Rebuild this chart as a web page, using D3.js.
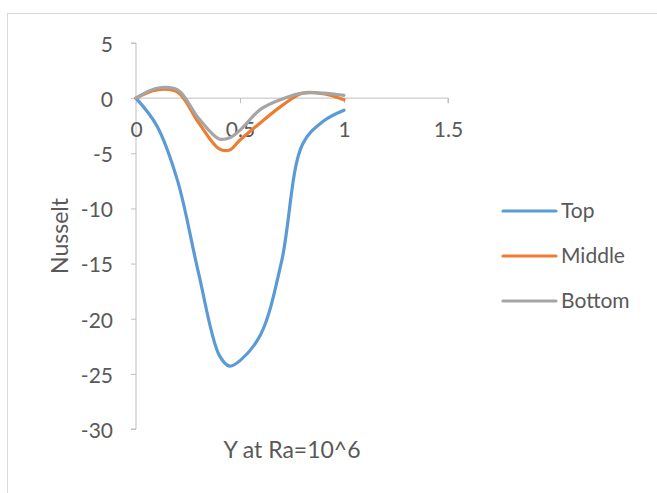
<!DOCTYPE html>
<html>
<head>
<meta charset="utf-8">
<script src="https://cdn.jsdelivr.net/npm/d3@7"></script>
<style>
  body { margin: 0; background: #fff; }
  text { font-family: Lato, "Open Sans", sans-serif; fill: #595959; }
</style>
</head>
<body>
<script>
// chart values
const yPos = [0, 0.1, 0.2, 0.3, 0.4, 0.45, 0.5, 0.6, 0.7, 0.8, 0.9, 1.0];
const topVals = [0, -2.5, -7.5, -15.8, -23.3, -24.3, -23.8, -21.4, -14.8, -4.2, -2.1, -1.1];
const middleVals = [0, 0.75, 0.55, -2.2, -4.6, -4.7, -3.8, -2.2, -0.7, 0.45, 0.4, -0.15];
const bottomVals = [0, 0.9, 0.75, -1.8, -3.7, -3.6, -2.9, -1.0, -0.1, 0.45, 0.45, 0.25];
const seriesNames = ["Top", "Middle", "Bottom"];
const xTicks = [0, 0.5, 1, 1.5];
const yTicks = [5, 0, -5, -10, -15, -20, -25, -30];

const colors = ["#5b9bd5", "#ed7d31", "#a5a5a5"];
const width = 657, height = 493;

const svg = d3.select("body").append("svg")
    .attr("width", width)
    .attr("height", height);

// chart area border
svg.append("rect")
    .attr("x", 7.5).attr("y", 13.5)
    .attr("width", 680).attr("height", 520)
    .attr("fill", "#fff")
    .attr("stroke", "#d9d9d9");

const x = d3.scaleLinear().domain([0, 1.5]).range([136, 448]);
const y = d3.scaleLinear().domain([-30, 5]).range([429, 43]);

// y axis
const yAxis = d3.axisLeft(y).tickValues(yTicks).tickSize(5).tickPadding(18).tickFormat(d => String(d));
const gy = svg.append("g").attr("transform", "translate(136,0)").call(yAxis);
gy.select(".domain").attr("stroke", "#bfbfbf").attr("d", "M-5," + y(-30) + "H0V" + y(5) + "H-5");
gy.selectAll(".tick line").attr("stroke", "#bfbfbf");
gy.selectAll(".tick text").style("font-size", "21px").attr("fill", "#595959").attr("dy", "0.4em");

// x axis at zero
const xAxis = d3.axisBottom(x).tickValues(xTicks).tickSize(5).tickFormat(d => String(d));
const gx = svg.append("g").attr("transform", "translate(0," + y(0) + ")").call(xAxis);
gx.select(".domain").attr("stroke", "#bfbfbf").attr("d", "M" + x(0) + ",0H" + x(1.5) + "V5");
gx.selectAll(".tick line").attr("stroke", "#bfbfbf");
gx.selectAll(".tick text").style("font-size", "21px").attr("fill", "#595959")
    .attr("y", 39).attr("dy", 0);

// lines
const allSeries = [topVals, middleVals, bottomVals];
const line = d3.line()
    .x((d, i) => x(yPos[i]))
    .y(d => y(d))
    .curve(d3.curveCatmullRom.alpha(0.5));

allSeries.forEach((vals, i) => {
    svg.append("path")
        .datum(vals)
        .attr("d", line)
        .attr("fill", "none")
        .attr("stroke", colors[i])
        .attr("stroke-width", 3.2)
        .attr("stroke-linecap", "round");
});

// axis titles
svg.append("text")
    .attr("x", 292).attr("y", 458)
    .attr("text-anchor", "middle")
    .style("font-size", "23px")
    .text("Y at Ra=10^6");

svg.append("text")
    .attr("transform", "translate(68,236) rotate(-90)")
    .attr("text-anchor", "middle")
    .style("font-size", "23px")
    .text("Nusselt");

// legend
const legendY = [211, 256, 301];
seriesNames.forEach((name, i) => {
    svg.append("line")
        .attr("x1", 503).attr("x2", 556)
        .attr("y1", legendY[i]).attr("y2", legendY[i])
        .attr("stroke", colors[i])
        .attr("stroke-width", 3.2)
        .attr("stroke-linecap", "round");
    svg.append("text")
        .attr("x", 561).attr("y", legendY[i] + 7)
        .style("font-size", "21px")
        .text(name);
});
</script>
</body>
</html>
